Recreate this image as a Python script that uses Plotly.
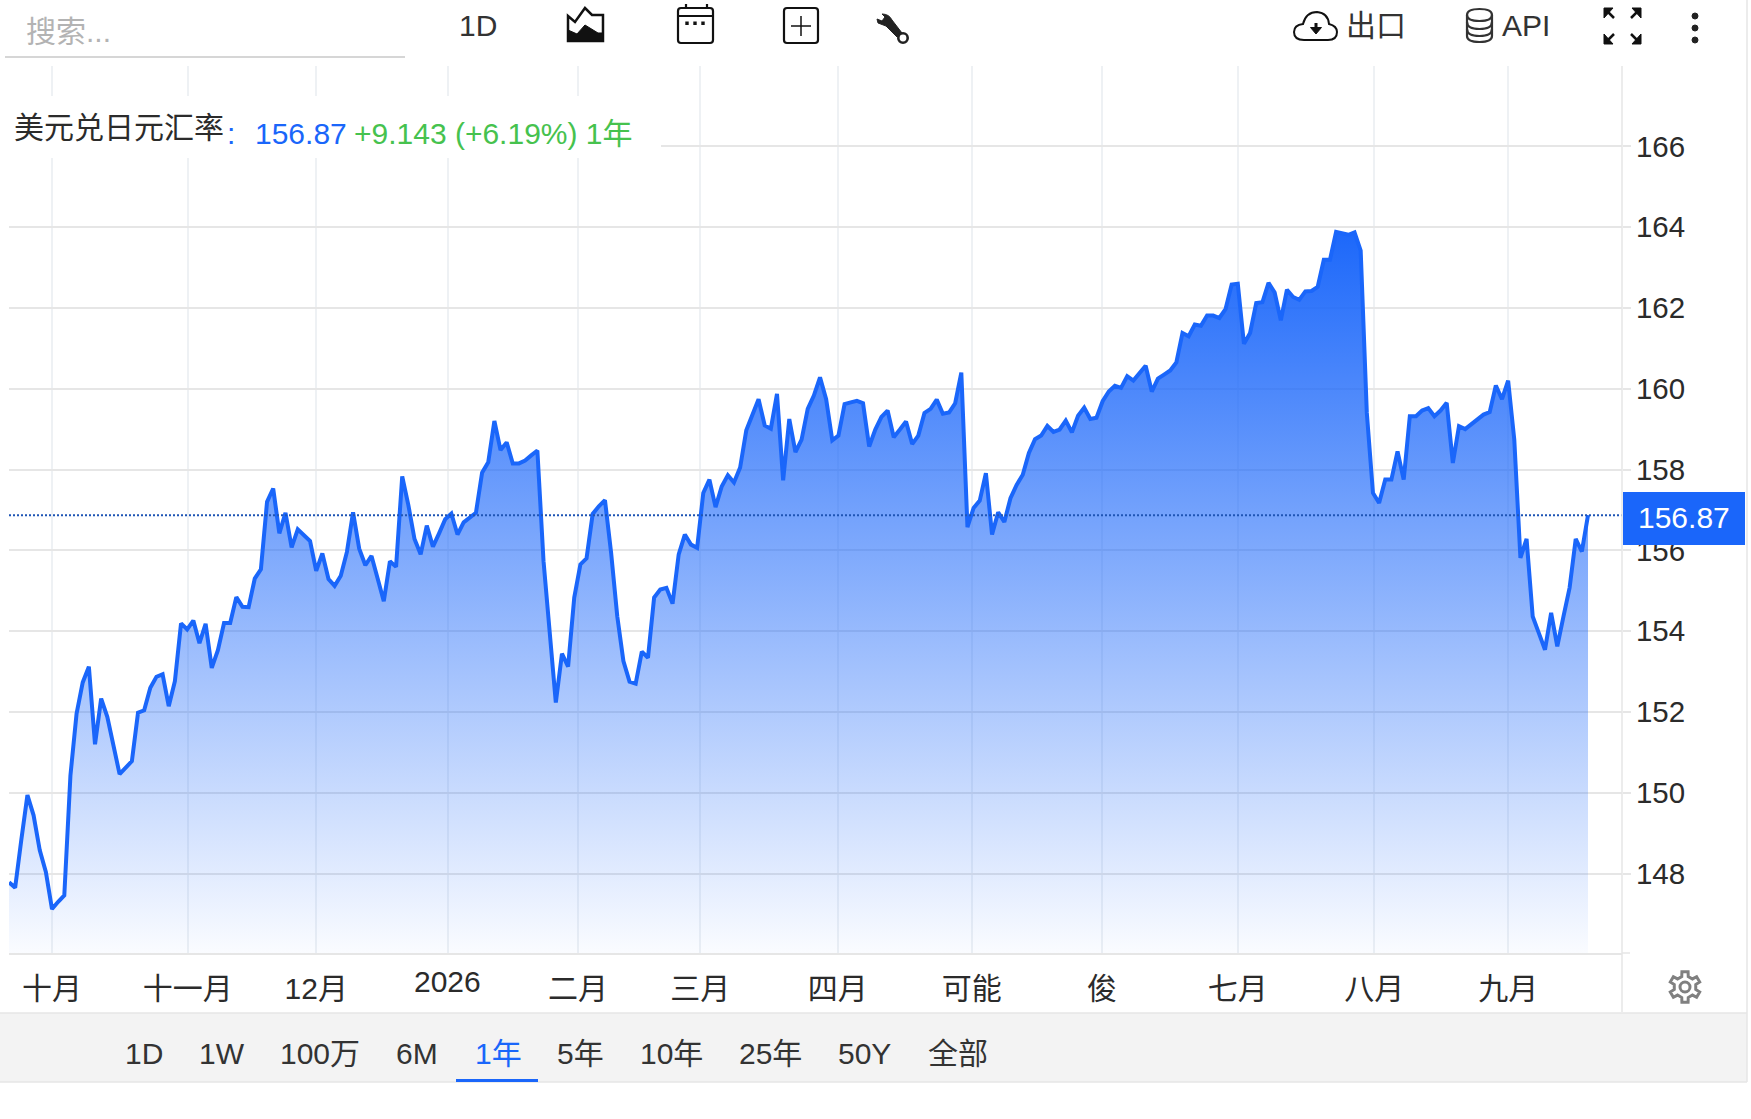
import math
import re
import plotly.graph_objects as go

# ---------- data ----------
rate_values = [
    147.78,147.65,148.83,149.94,149.44,148.58,148.04,147.12,147.30,147.46,
    150.43,151.96,152.73,153.12,151.20,152.33,151.88,151.14,150.46,150.62,
    150.78,151.98,152.04,152.60,152.87,152.93,152.14,152.76,154.19,154.04,
    154.26,153.70,154.18,153.09,153.53,154.20,154.20,154.84,154.60,154.59,
    155.30,155.53,157.20,157.53,156.42,156.93,156.07,156.52,156.37,156.23,
    155.49,155.92,155.29,155.12,155.37,155.96,156.94,156.04,155.63,155.86,
    155.30,154.74,155.73,155.59,157.83,157.12,156.28,155.90,156.61,156.09,
    156.42,156.77,156.91,156.39,156.69,156.80,156.93,157.92,158.18,159.20,
    158.48,158.67,158.15,158.15,158.22,158.35,158.47,155.73,153.96,152.23,
    153.44,153.12,154.83,155.65,155.80,156.90,157.09,157.24,155.94,154.37,
    153.26,152.75,152.70,153.49,153.34,154.83,155.03,155.07,154.68,155.90,
    156.39,156.14,156.06,157.42,157.75,157.07,157.58,157.86,157.68,158.05,
    158.97,159.36,159.74,159.09,159.01,159.87,157.73,159.25,158.43,158.74,
    159.50,159.83,160.28,159.74,158.72,158.84,159.62,159.66,159.70,159.64,
    158.57,158.99,159.30,159.46,158.80,158.99,159.19,158.63,158.84,159.40,
    159.50,159.73,159.38,159.41,159.64,160.40,156.57,157.05,157.23,157.91,
    156.39,156.94,156.70,157.29,157.62,157.87,158.41,158.75,158.84,159.08,
    158.93,158.99,159.21,158.92,159.33,159.53,159.25,159.28,159.69,159.93,
    160.07,160.02,160.31,160.20,160.39,160.57,159.93,160.25,160.35,160.45,
    160.65,161.38,161.30,161.59,161.56,161.81,161.81,161.75,161.97,162.58,
    162.60,161.11,161.38,162.12,162.14,162.62,162.38,161.69,162.45,162.27,
    162.20,162.41,162.42,162.52,163.19,163.19,163.88,163.84,163.81,163.87,
    163.42,159.40,157.42,157.17,157.75,157.75,158.45,157.75,159.32,159.32,
    159.46,159.52,159.32,159.46,159.65,158.16,159.07,159.00,159.11,159.23,
    159.36,159.42,160.08,159.74,160.20,158.74,155.81,156.28,154.36,153.95,
    153.54,154.45,153.62,154.36,155.07,156.28,155.97,156.87,
]
session_index = list(range(len(rate_values)))
last_price = 156.87

month_positions = [7, 29.1, 50, 71.4, 92.6, 112.5, 134.9, 156.7, 177.9, 200, 222.2, 244]
month_labels = ["十月", "十一月", "12月", "", "二月", "三月", "四月", "可能", "俊", "七月", "八月", "九月"]
year_position = 71.4
year_label = "2026"
price_ticks = [148, 150, 152, 154, 156, 158, 160, 162, 164, 166]

series_name = "美元兑日元汇率"
price_text = "156.87"
change_text = "+9.143 (+6.19%) 1年"
range_buttons = ["1D", "1W", "100万", "6M", "1年", "5年", "10年", "25年", "50Y", "全部"]
range_button_x = [144, 222, 320, 417, 498, 580, 671, 770, 864, 958]

# ---------- page geometry (reference pixels) ----------
W, H = 1751, 1119
PLOT_L, PLOT_R, PLOT_T, PLOT_B = 9, 1622, 66, 953
X_LEFT, X_STEP = 9, 6.144
Y_148, Y_UNIT = 873.5, 40.4

BLUE = "#1a66fa"
GREEN = "#46c24e"
INK = "#2b2b2b"
GRID_H = "#e6e6e6"
GRID_V = "#eef1f4"
FONT = "Liberation Sans, Arial, Noto Sans CJK SC, sans-serif"


def px(x):
    return x / W


def py(y):
    return 1 - y / H


def svg(d):
    """Convert an absolute SVG path in page pixels to paper coordinates."""
    tokens = re.findall(r"[MLCQZ]|-?\d+\.?\d*", d)
    out, is_x = [], True
    for t in tokens:
        if t in "MLCQZ":
            out.append(t)
            is_x = True
        else:
            out.append(f"{px(float(t)):.5f}" if is_x else f"{py(float(t)):.5f}")
            is_x = not is_x
    return " ".join(out)


shapes = []
annotations = []


def path(d, color="#111", width=2, fill=None):
    shapes.append(dict(type="path", xref="paper", yref="paper", path=svg(d),
                       line=dict(color=color, width=width),
                       fillcolor=fill if fill else "rgba(0,0,0,0)", layer="above"))


def rect(x0, y0, x1, y1, fill, layer="above"):
    shapes.append(dict(type="rect", xref="paper", yref="paper", x0=px(x0), x1=px(x1),
                       y0=py(y1), y1=py(y0), fillcolor=fill, line=dict(width=0), layer=layer))


def seg(x0, y0, x1, y1, color, width=1.5, dash="solid"):
    shapes.append(dict(type="line", xref="paper", yref="paper", x0=px(x0), x1=px(x1),
                       y0=py(y0), y1=py(y1), line=dict(color=color, width=width, dash=dash), layer="above"))


def circle(cx, cy, r, color="#111", width=2, fill=None):
    shapes.append(dict(type="circle", xref="paper", yref="paper",
                       x0=px(cx - r), x1=px(cx + r), y0=py(cy + r), y1=py(cy - r),
                       line=dict(color=color, width=width),
                       fillcolor=fill if fill else "rgba(0,0,0,0)", layer="above"))


def text(s, x, y, size=30, color=INK, anchor="left"):
    annotations.append(dict(text=s, xref="paper", yref="paper", x=px(x), y=py(y),
                            xanchor=anchor, yanchor="middle", showarrow=False,
                            font=dict(family=FONT, size=size, color=color)))


# white patch behind the legend line
rect(0, 96, 661, 158, "white")
text(series_name, 12, 127, 30, INK)
text(":", 225, 133, 30, BLUE)
text(price_text, 253, 133, 30, BLUE)
text(change_text, 352, 133, 30, GREEN)

# current price flag
rect(1623, 492, 1745, 545, BLUE)
text(price_text, 1684, 518, 30, "white", "center")

# axis frame bits
seg(1622, 66, 1622, 1012, GRID_H, 1.5)
seg(1622, 953, 1630, 953, GRID_H, 1.5)

# search box
text("搜索...", 24, 32, 30, "#b3b3b3")
seg(5, 57, 405, 57, "#d6d6d6", 2)

# toolbar text
text("1D", 478, 26, 30, "#333", "center")
text("出口", 1376, 26, 30, "#333", "center")
text("API", 1526, 26, 30, "#333", "center")

# area icon
path("M568 16 L575 22 L585 8 L592 15 L603 15 L603 41 L568 41 Z", "#111", 2.5)
path("M568 41 L568 30 L577 34 L585 25 L598 33 L603 33 L603 41 Z", "#111", 1, "#111")
# calendar icon
path("M681 8 L710 8 Q713 8 713 11 L713 40 Q713 43 710 43 L681 43 Q678 43 678 40 L678 11 Q678 8 681 8 Z", "#111", 2.2)
seg(678, 16, 713, 16, "#111", 2.2)
seg(686, 4, 686, 8, "#111", 2.2)
seg(707, 4, 707, 8, "#111", 2.2)
for dot_x in (687, 695, 703):
    rect(dot_x - 1.7, 21.5, dot_x + 1.7, 25, "#111")
# plus box icon
path("M787 8 L815 8 Q818 8 818 11 L818 40 Q818 43 815 43 L787 43 Q784 43 784 40 L784 11 Q784 8 787 8 Z", "#111", 2.2)
seg(801, 16, 801, 36, "#111", 1.5)
seg(791, 26, 811, 26, "#111", 1.5)
# wrench icon
path("M882 14 L885 17 L882 21 L877 19 L878 23 L886 26 L897 37 L902 33 L892 20 Q889 14 882 14 Z", "#222", 1, "#222")
circle(903, 38, 4.7, "#222", 2.6, "white")
# cloud icon
path("M1304 40 Q1294 40 1294 32 Q1294 25 1303 24 Q1306 12 1317 12 Q1328 13 1329 24 Q1337 26 1337 32 Q1337 40 1328 40 Z", "#111", 2)
path("M1316 23 L1316 28", "#111", 3)
path("M1310.5 27.5 L1321.5 27.5 L1316 34 Z", "#111", 1, "#111")
# database icon
path("M1467 15 Q1467 9 1479.5 9 Q1492 9 1492 15 Q1492 21 1479.5 21 Q1467 21 1467 15 Z", "#333", 2.2)
path("M1467 15 L1467 36 Q1467 42 1479.5 42 Q1492 42 1492 36 L1492 15", "#333", 2.2)
path("M1467 22 Q1467 29 1479.5 29 Q1492 29 1492 22", "#333", 2.2)
path("M1467 29 Q1467 36 1479.5 36 Q1492 36 1492 29", "#333", 2.2)
# expand icon: four corner arrows
path("M1604 8 L1613 8 L1604 18 Z", "#111", 1, "#111")
path("M1606 10 L1614 18", "#111", 2.5)
path("M1641 8 L1632 8 L1641 18 Z", "#111", 1, "#111")
path("M1639 10 L1631 18", "#111", 2.5)
path("M1604 44 L1613 44 L1604 34 Z", "#111", 1, "#111")
path("M1606 42 L1614 34", "#111", 2.5)
path("M1641 44 L1632 44 L1641 34 Z", "#111", 1, "#111")
path("M1639 42 L1631 34", "#111", 2.5)
# kebab
for dot_y in (16, 28, 40):
    circle(1695, dot_y, 3, "#222", 1, "#222")

# bottom range selector
rect(0, 1013, 1747, 1082, "#f3f3f3")
seg(0, 1013, 1747, 1013, GRID_H, 1.5)
seg(0, 1082, 1747, 1082, GRID_H, 1.5)
seg(1747, 0, 1747, 1082, GRID_H, 1.5)
for label, bx in zip(range_buttons, range_button_x):
    text(label, bx, 1053, 30, BLUE if label == "1年" else "#333", "center")
rect(456, 1079, 538, 1082, BLUE)

# settings gear
gear_cx, gear_cy = 1685, 987
teeth = []
for k in range(6):
    a = k * math.pi / 3 - math.pi / 2
    for da, r in ((-0.30, 11), (-0.20, 15.5), (0.20, 15.5), (0.30, 11)):
        teeth.append((gear_cx + r * math.cos(a + da), gear_cy + r * math.sin(a + da)))
d = "M" + " L".join(f"{a:.2f} {b:.2f}" for a, b in teeth) + " Z"
path(d, "#808080", 3)
circle(gear_cx, gear_cy, 5, "#808080", 3)

# year label on its own, a little higher than the month labels
annotations.append(dict(text=year_label, xref="x", yref="paper", x=year_position, y=py(981),
                        xanchor="center", yanchor="middle", showarrow=False,
                        font=dict(family=FONT, size=30, color=INK)))

# ---------- figure ----------
x_min = 0 - (X_LEFT - PLOT_L) / X_STEP
x_max = (PLOT_R - X_LEFT) / X_STEP
y_min = 148 + (Y_148 - PLOT_B) / Y_UNIT
y_max = 148 + (Y_148 - PLOT_T) / Y_UNIT

fig = go.Figure()
fig.add_trace(go.Scatter(
    x=session_index, y=rate_values, mode="lines", fill="tozeroy",
    line=dict(color=BLUE, width=4, shape="linear"),
    fillgradient=dict(type="vertical", start=146, stop=164,
                      colorscale=[[0, "rgba(27,103,250,0.02)"], [1, "rgba(27,103,250,1)"]]),
    hoverinfo="skip", showlegend=False,
))
fig.add_trace(go.Scatter(
    x=[x_min, x_max], y=[last_price, last_price], mode="lines",
    line=dict(color="#1f55b5", width=2, dash="2px,2px"),
    hoverinfo="skip", showlegend=False,
))

fig.update_layout(
    width=W, height=H, margin=dict(l=0, r=0, t=0, b=0),
    paper_bgcolor="white", plot_bgcolor="white",
    font=dict(family=FONT, color=INK),
    shapes=shapes, annotations=annotations,
    xaxis=dict(domain=[px(PLOT_L), px(PLOT_R)], range=[x_min, x_max],
               tickmode="array", tickvals=month_positions, ticktext=month_labels,
               showgrid=True, gridcolor=GRID_V, gridwidth=1.5,
               zeroline=False, showline=True, linecolor=GRID_H, linewidth=1.5,
               ticks="", ticklabelstandoff=8, tickfont=dict(size=30, color=INK, family=FONT),
               tickangle=0, fixedrange=True),
    yaxis=dict(domain=[py(PLOT_B), py(PLOT_T)], range=[y_min, y_max], side="right",
               tickmode="array", tickvals=price_ticks,
               showgrid=True, gridcolor=GRID_H, gridwidth=1.5, zeroline=False,
               showline=False, ticks="outside", ticklen=8, tickwidth=1.5, tickcolor=GRID_H,
               ticklabelstandoff=-1, tickfont=dict(size=29.5, color=INK, family=FONT), fixedrange=True),
)

fig.write_html("out.html", config={"displayModeBar": False},
               post_script="document.body.style.margin='0';document.documentElement.style.overflow='hidden';")
